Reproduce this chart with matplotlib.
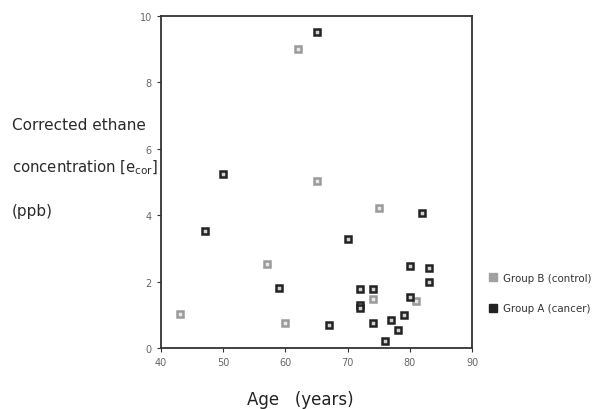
import matplotlib
matplotlib.use("Agg")
import matplotlib.pyplot as plt
from matplotlib.lines import Line2D

plt.rcParams['font.family'] = ['DejaVu Sans']

# Group B (control)
control_age = [43, 62, 65, 57, 60, 75, 74, 81]
control_ethane = [1.03, 9.0, 5.04, 2.54, 0.75, 4.21, 1.48, 1.43]

# Group A (cancer)
cancer_age = [65, 50, 47, 59, 67, 70, 82, 80, 83, 83, 72, 74, 72, 72, 80, 79, 77, 74, 78, 76]
cancer_ethane = [9.52, 5.24, 3.53, 1.80, 0.71, 3.27, 4.07, 2.46, 2.42, 1.98,
                 1.79, 1.79, 1.31, 1.20, 1.55, 1.00, 0.84, 0.75, 0.55, 0.21]

x_ticks = [40, 50, 60, 70, 80, 90]
y_ticks = [0, 2, 4, 6, 8, 10]

fig = plt.figure(figsize=(5.94, 4.10), dpi=100)
ax = fig.add_axes([0.271, 0.1483, 0.524, 0.8109])

ax.plot(control_age, control_ethane, linestyle='none', marker='s', markersize=5,
        markerfacecolor='#e8e8e8', markeredgecolor='#9a9a9a', markeredgewidth=1.8)
ax.plot(cancer_age, cancer_ethane, linestyle='none', marker='s', markersize=5,
        markerfacecolor='#d0d0d0', markeredgecolor='#222222', markeredgewidth=1.8)

ax.set_xlim(40, 90)
ax.set_ylim(0, 10)
ax.set_xticks(x_ticks)
ax.set_yticks(y_ticks)
ax.tick_params(axis='both', labelsize=7, labelcolor='#666666', length=3, width=0.8,
               color='#333333', direction='out')
for s in ax.spines.values():
    s.set_color('#333333')
    s.set_linewidth(1.3)

fig.text(0.02, 0.695, 'Corrected ethane', fontsize=11, color='#2a2a2a', va='center')
fig.text(0.02, 0.59, 'concentration [e$_{\\mathregular{cor}}$]', fontsize=10.7, color='#2a2a2a', va='center')
fig.text(0.02, 0.483, '(ppb)', fontsize=11, color='#2a2a2a', va='center')

fig.text(0.505, 0.025, 'Age   (years)', fontsize=12, color='#222222', ha='center', va='center')

handles = [Line2D([], [], linestyle='none', marker='s', markersize=6,
                  markerfacecolor='#a0a0a0', markeredgecolor='#a0a0a0'),
           Line2D([], [], linestyle='none', marker='s', markersize=6,
                  markerfacecolor='#222222', markeredgecolor='#222222')]
fig.legend(handles, ['Group B (control)', 'Group A (cancer)'], loc='center left',
           bbox_to_anchor=(0.805, 0.283), frameon=False, fontsize=7.4,
           handletextpad=0.5, labelspacing=2.0, handlelength=1.0,
           labelcolor='#333333')

fig.savefig('out.png', dpi=100)
